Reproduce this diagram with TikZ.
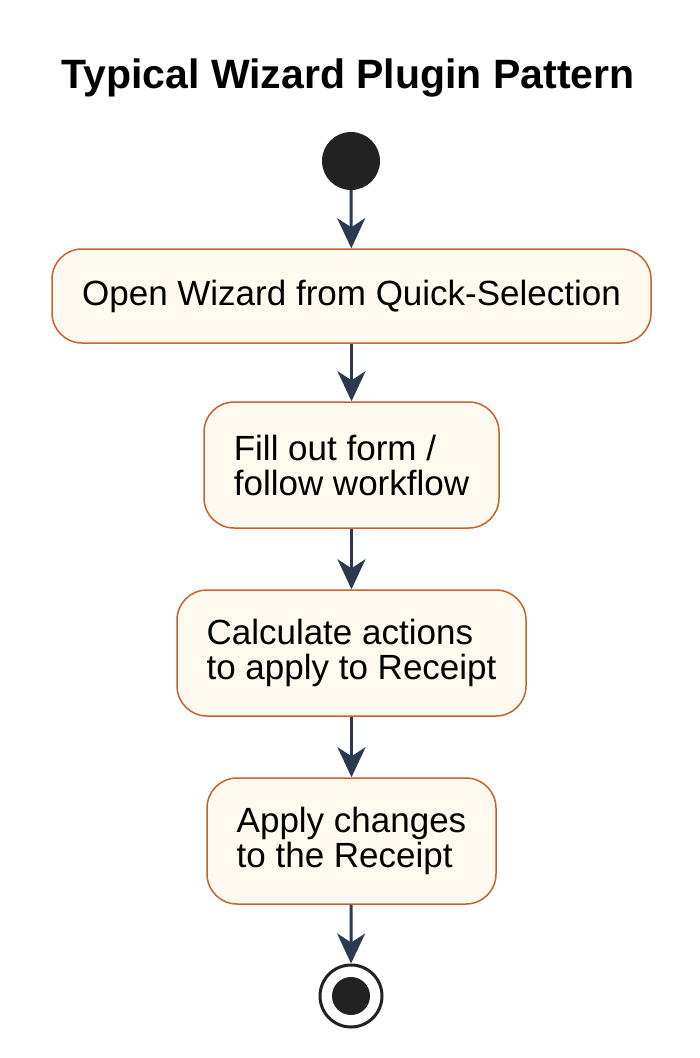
\documentclass[tikz,border=0pt]{standalone}
\usepackage{fontspec}
\setmainfont{Liberation Sans}
\usetikzlibrary{arrows.meta}
\definecolor{boxfill}{HTML}{FEFAEF}
\definecolor{boxline}{HTML}{C8622C}
\definecolor{arrowc}{HTML}{2C3A4F}
\definecolor{dotc}{HTML}{222222}
\tikzset{
  actbox/.style={draw=boxline, fill=boxfill, line width=1.5pt, rounded corners=30pt,
    align=left, inner sep=0pt, font=\fontsize{35}{35}\selectfont},
  flow/.style={draw=arrowc, line width=3pt, -{Stealth[length=30pt,width=28pt,inset=9pt]}},
}
\begin{document}
\begin{tikzpicture}[x=1pt,y=-1pt]
\useasboundingbox (0,0) rectangle (700,1058);
\node[font=\bfseries\fontsize{41}{41}\selectfont, anchor=base] (title) at (348,88) {Typical Wizard Plugin Pattern};
\node[circle, fill=dotc, minimum size=58pt, inner sep=0pt] (start) at (351,161) {};
\node[actbox, minimum width=599pt, minimum height=94pt] (b1) at (351.5,296) {Open Wizard from Quick-Selection};
\node[actbox, minimum width=295pt, minimum height=126pt] (b2) at (351.5,465) {Fill out form /\\follow workflow};
\node[actbox, minimum width=349pt, minimum height=126pt] (b3) at (351.5,653) {Calculate actions\\to apply to Receipt};
\node[actbox, minimum width=289pt, minimum height=126pt] (b4) at (351.5,841) {Apply changes\\to the Receipt};
\node[circle, draw=dotc, line width=3pt, fill=white, minimum size=62pt, inner sep=0pt] (end) at (351,996) {};
\node[circle, fill=dotc, minimum size=38pt, inner sep=0pt] (endin) at (end.center) {};
\draw[flow] (start) -- (b1);
\draw[flow] (b1) -- (b2);
\draw[flow] (b2) -- (b3);
\draw[flow] (b3) -- (b4);
\draw[flow] (b4) -- (end.north);
\end{tikzpicture}
\end{document}
